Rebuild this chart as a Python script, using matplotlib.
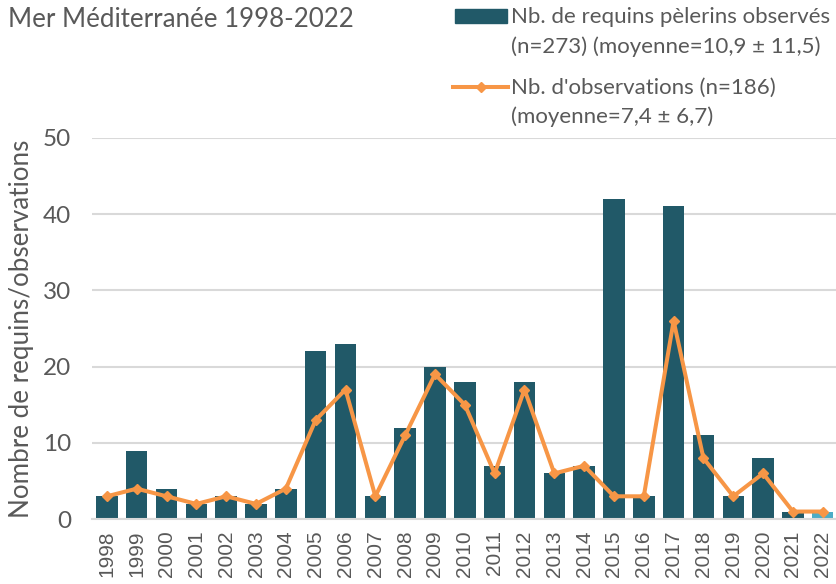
import matplotlib.pyplot as plt
from matplotlib.lines import Line2D
from matplotlib.patches import Rectangle

# data
years = [str(y) for y in range(1998, 2023)]
requins = [3, 9, 4, 2, 3, 2, 4, 22, 23, 3, 12, 20, 18, 7, 18, 6, 7, 42, 3, 41, 11, 3, 8, 1, 1]
observations = [3, 4, 3, 2, 3, 2, 4, 13, 17, 3, 11, 19, 15, 6, 17, 6, 7, 3, 3, 26, 8, 3, 6, 1, 1]

plt.rcParams['font.family'] = ['Lato', 'DejaVu Sans']
text_col = '#595959'
bar_col = '#215968'
line_col = '#F79646'

fig = plt.figure(figsize=(8.36, 5.84), dpi=100)
ax = fig.add_axes([0.110, 0.111, 0.892, 0.653])

x = list(range(len(years)))
colors = [bar_col] * (len(years) - 1) + ['#4BACC6']
ax.bar(x, requins, width=0.72, color=colors, zorder=2)
ax.plot(x, observations, color=line_col, lw=2.9, marker='D', ms=5.5, zorder=3)

ax.set_ylim(0, 50)
ax.set_xlim(-0.5, len(years) - 0.5)
ax.set_yticks([0, 10, 20, 30, 40, 50])
ax.set_xticks(x)
ax.set_xticklabels(years, rotation=90, family=['Liberation Sans', 'DejaVu Sans'], fontsize=15)
ax.tick_params(axis='y', length=0, labelsize=17.5, colors=text_col, pad=15)
ax.tick_params(axis='x', length=0, colors=text_col, pad=8)
ax.yaxis.grid(True, color='#d9d9d9', lw=1.5, zorder=0)
for s in ['top', 'right', 'left']:
    ax.spines[s].set_visible(False)
ax.spines['bottom'].set_color('#d9d9d9')
ax.spines['bottom'].set_linewidth(1.5)
ax.set_ylabel('Nombre de requins/observations', fontsize=18.7, color=text_col, va='center')
ax.yaxis.set_label_coords(-0.095, 0.5)

fig.text(0.009, 0.966, 'Mer Méditerranée 1998-2022', fontsize=18.6, color=text_col, va='center')

# legend, laid out by hand so the keys sit on the first line of each entry
fig.add_artist(Rectangle((0.5443, 0.9611), 0.0622, 0.0231, color=bar_col,
                         transform=fig.transFigure))
fig.add_artist(Line2D([0.5419, 0.6077], [0.851, 0.851], color=line_col, lw=2.9,
                      transform=fig.transFigure))
fig.add_artist(Line2D([0.5748], [0.851], color=line_col, marker='D', ms=5.5,
                      transform=fig.transFigure))
leg_lines = ['Nb. de requins pèlerins observés', '(n=273) (moyenne=10,9 ± 11,5)',
             "Nb. d'observations (n=186)", '(moyenne=7,4 ± 6,7)']
for txt, yy in zip(leg_lines, [0.9611, 0.9092, 0.8390, 0.7894]):
    fig.text(0.6112, yy, txt, fontsize=16, color=text_col, va='baseline')

fig.savefig('out.png', dpi=100)
